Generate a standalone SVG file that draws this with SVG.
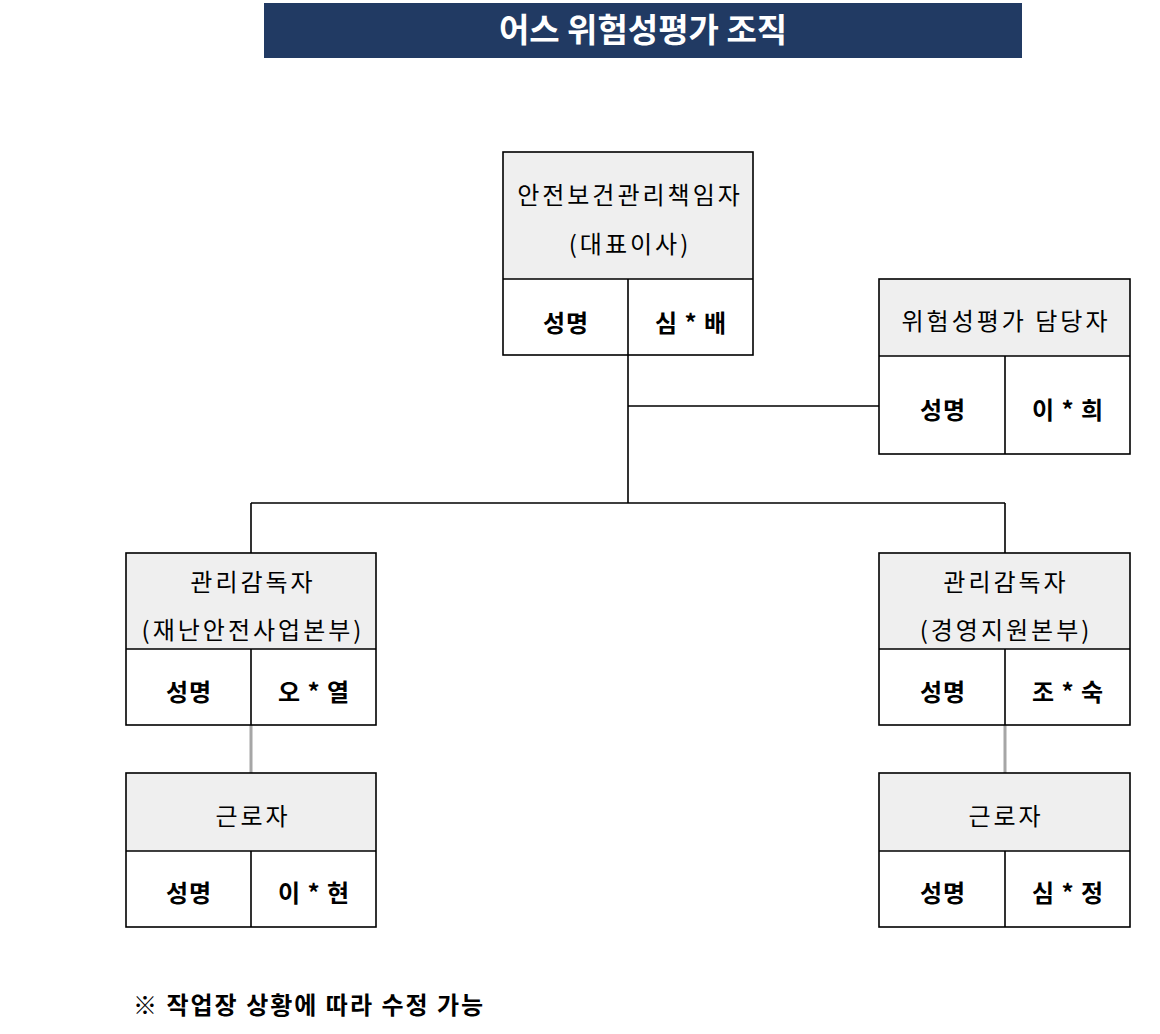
<svg xmlns="http://www.w3.org/2000/svg" width="1160" height="1034" viewBox="0 0 1160 1034">
<style>
.hd{fill:#efefef;stroke:none}
.bx{fill:none;stroke:#000;stroke-width:1.6}
.ln{stroke:#000;stroke-width:1.6;fill:none}
.gl{stroke:#a6a6a6;stroke-width:3;fill:none}
.t{font-family:"Noto Sans CJK KR","Noto Sans",sans-serif;font-size:24px;letter-spacing:3px;fill:#000;text-anchor:middle}
.b{font-family:"Noto Sans CJK KR","Noto Sans",sans-serif;font-size:24px;font-weight:bold;letter-spacing:1px;fill:#000;text-anchor:middle}
</style>
<rect x="0" y="0" width="1160" height="1034" fill="#fff"/>
<g id="title">
<rect x="264" y="3" width="758" height="55" fill="#213a63"/>
<text x="643" y="42" font-family="'Noto Sans CJK KR','Noto Sans',sans-serif" font-size="33" font-weight="bold" fill="#fff" text-anchor="middle">어스 위험성평가 조직</text>
</g>
<g id="connectors">
<path class="ln" d="M628 355V503M628 406H879M251 503H1005M251 503V553M1005 503V553"/>
<path class="gl" d="M251 725V773M1005 725V773"/>
</g>
<g id="ceo">
<rect class="hd" x="503" y="152" width="250" height="127"/>
<rect class="bx" x="503" y="152" width="250" height="203"/>
<path class="ln" d="M503 279H753M628 279V355"/>
<text class="t" x="630" y="204">안전보건관리책임자</text>
<text class="t" x="630" y="253">(대표이사)</text>
<text class="b" x="566" y="332">성명</text>
<text class="b" x="691" y="332">심  *  배</text>
</g>
<g id="risk">
<rect class="hd" x="879" y="279" width="251" height="77"/>
<rect class="bx" x="879" y="279" width="251" height="175"/>
<path class="ln" d="M879 356H1130M1005 356V454"/>
<text class="t" x="1006" y="330">위험성평가 담당자</text>
<text class="b" x="943" y="419">성명</text>
<text class="b" x="1068" y="419">이  *  희</text>
</g>
<g id="mgr-left">
<rect class="hd" x="126" y="553" width="250" height="96"/>
<rect class="bx" x="126" y="553" width="250" height="172"/>
<path class="ln" d="M126 649H376M251 649V725"/>
<text class="t" x="253" y="591">관리감독자</text>
<text class="t" x="253" y="639">(재난안전사업본부)</text>
<text class="b" x="189" y="701">성명</text>
<text class="b" x="314" y="701">오  *  열</text>
</g>
<g id="mgr-right">
<rect class="hd" x="879" y="553" width="251" height="96"/>
<rect class="bx" x="879" y="553" width="251" height="172"/>
<path class="ln" d="M879 649H1130M1005 649V725"/>
<text class="t" x="1006" y="591">관리감독자</text>
<text class="t" x="1006" y="639">(경영지원본부)</text>
<text class="b" x="943" y="701">성명</text>
<text class="b" x="1068" y="701">조  *  숙</text>
</g>
<g id="worker-left">
<rect class="hd" x="126" y="773" width="250" height="78"/>
<rect class="bx" x="126" y="773" width="250" height="154"/>
<path class="ln" d="M126 851H376M251 851V927"/>
<text class="t" x="253" y="825">근로자</text>
<text class="b" x="189" y="902">성명</text>
<text class="b" x="314" y="902">이  *  현</text>
</g>
<g id="worker-right">
<rect class="hd" x="879" y="773" width="251" height="78"/>
<rect class="bx" x="879" y="773" width="251" height="154"/>
<path class="ln" d="M879 851H1130M1005 851V927"/>
<text class="t" x="1006" y="825">근로자</text>
<text class="b" x="943" y="902">성명</text>
<text class="b" x="1068" y="902">심  *  정</text>
</g>
<text x="133" y="1014" font-family="'Noto Sans CJK KR','Noto Sans',sans-serif" font-size="24" font-weight="bold" letter-spacing="2" fill="#000">※ 작업장 상황에 따라 수정 가능</text>
</svg>
